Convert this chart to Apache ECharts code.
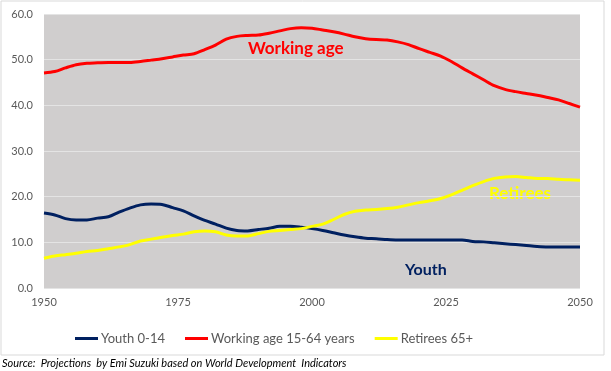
<!DOCTYPE html>
<html><head><meta charset="utf-8">
<script src="https://cdn.jsdelivr.net/npm/echarts@6/dist/echarts.min.js"></script>
<style>html,body{margin:0;padding:0;background:#fff}#c{width:611px;height:371px}</style>
</head><body><div id="c"></div>
<script>
const years = [1950,1952,1954,1956,1958,1960,1962,1964,1966,1968,1970,1972,1974,1976,1978,1980,1982,1984,1986,1988,1990,1992,1994,1996,1998,2000,2002,2004,2006,2008,2010,2012,2014,2016,2018,2020,2022,2024,2026,2028,2030,2032,2034,2036,2038,2040,2042,2044,2046,2048,2050];
const youth = [16.4,16.0,15.2,14.9,14.9,15.3,15.6,16.6,17.5,18.2,18.4,18.3,17.6,16.9,15.8,14.8,14.0,13.1,12.6,12.5,12.8,13.1,13.5,13.5,13.3,13.0,12.6,12.1,11.6,11.2,10.9,10.8,10.6,10.5,10.5,10.5,10.5,10.5,10.5,10.5,10.2,10.1,9.9,9.7,9.5,9.3,9.1,9.0,9.0,9.0,9.0];
const workingAge = [47.1,47.4,48.2,48.9,49.2,49.3,49.4,49.4,49.4,49.6,49.9,50.2,50.6,51.0,51.3,52.2,53.2,54.5,55.1,55.3,55.4,55.8,56.3,56.8,57.0,56.9,56.5,56.1,55.6,55.0,54.6,54.4,54.3,53.9,53.3,52.4,51.6,50.8,49.6,48.2,46.9,45.6,44.3,43.5,43.0,42.6,42.2,41.7,41.2,40.4,39.6];
const retirees = [6.5,7.0,7.3,7.6,8.0,8.2,8.6,9.0,9.5,10.3,10.7,11.1,11.5,11.8,12.3,12.5,12.3,11.6,11.4,11.4,11.9,12.4,12.6,12.8,13.0,13.5,14.0,15.0,16.1,16.8,17.1,17.2,17.4,17.7,18.2,18.7,19.1,19.6,20.4,21.4,22.4,23.3,24.0,24.3,24.4,24.2,24.0,24.0,23.8,23.7,23.6];
const seriesNames = ['Youth 0-14','Working age 15-64 years','Retirees 65+'];
const seriesColors = ['#002060','#FF0000','#FFFF00'];
const seriesValues = [youth, workingAge, retirees];

const FONT = 'Lato';
const chart = echarts.init(document.getElementById('c'), null, {renderer:'canvas'});
chart.setOption({
  animation:false,
  textStyle:{fontFamily:FONT},
  grid:{left:44,right:31,top:14,bottom:83,show:true,backgroundColor:'#D0CECE',borderWidth:0},
  xAxis:{type:'value',min:1950,max:2050,interval:25,
    axisLine:{show:false},axisTick:{show:false},splitLine:{show:false},
    axisLabel:{color:'#595959',fontSize:11,margin:9,fontFamily:FONT,formatter:v=>String(v)}},
  yAxis:{type:'value',min:0,max:60,interval:10,
    axisLine:{show:false},axisTick:{show:false},
    splitLine:{lineStyle:{color:'#E4E4E4',width:1}},
    axisLabel:{color:'#595959',fontSize:11,margin:11,fontFamily:FONT,formatter:v=>v.toFixed(1)}},
  legend:{left:70,top:327,itemWidth:23,itemHeight:3,itemGap:20,icon:'rect',
    textStyle:{color:'#595959',fontSize:13,fontFamily:FONT,padding:[0,0,0,-2]},
    data:seriesNames},
  series: seriesNames.map((n,i)=>({
    name:n,type:'line',showSymbol:false,symbol:'none',smooth:0.3,
    lineStyle:{color:seriesColors[i],width:3},itemStyle:{color:seriesColors[i]},
    data: years.map((y,j)=>[y, seriesValues[i][j]])
  })),
  graphic:[
    {type:'rect',shape:{x:1,y:1,width:603,height:354},style:{fill:'none',stroke:'#D9D9D9',lineWidth:1},z:-1,silent:true},
    {type:'text',left:248,top:40,style:{text:'Working age',fill:'#FF0000',font:'bold 17px '+FONT}},
    {type:'text',left:489,top:185,style:{text:'Retirees',fill:'#FFFF00',font:'bold 17px '+FONT}},
    {type:'text',left:405,top:262,style:{text:'Youth',fill:'#002060',font:'bold 16px '+FONT}},
    {type:'text',left:2,top:358,style:{text:'Source:  Projections  by Emi Suzuki based on World Development  Indicators',fill:'#000000',font:'italic 11px '+FONT}}
  ]
});
</script></body></html>
